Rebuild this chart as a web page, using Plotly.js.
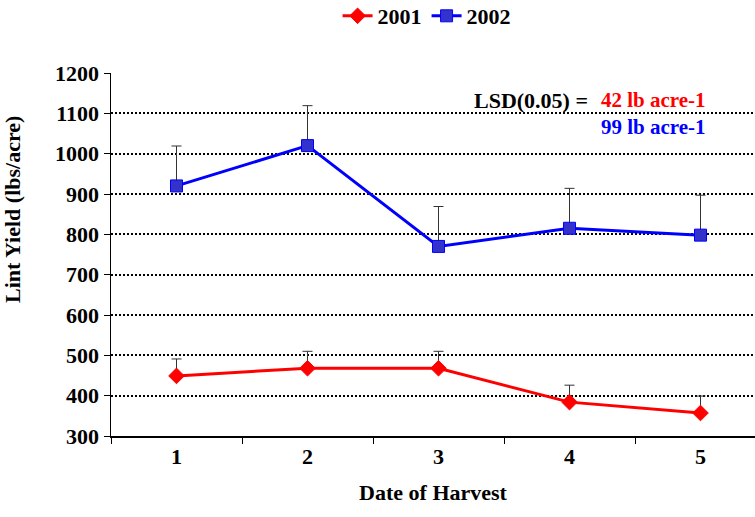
<!DOCTYPE html>
<html>
<head>
<meta charset="utf-8">
<script src="https://cdn.plot.ly/plotly-3.0.1.min.js"></script>
<style>html,body{margin:0;padding:0;background:#fff;} #chart{width:755px;height:517px;}</style>
</head>
<body>
<div id="chart"></div>
<script>
const harvestDates = ['1', '2', '3', '4', '5'];
const yield2001 = [449, 468, 468, 384, 357];
const yield2002 = [920, 1020, 770, 815, 798];
const lsd2001 = [42, 42, 42, 42, 42];
const lsd2002 = [99, 99, 99, 99, 99];
const yTicks = [300, 400, 500, 600, 700, 800, 900, 1000, 1100, 1200];

const FONT = 'Liberation Serif, Times New Roman, serif';

const traces = [
  {
    x: harvestDates, y: yield2001, name: '<b>2001</b>', type: 'scatter', mode: 'lines+markers',
    line: {color: '#ff0000', width: 3},
    marker: {symbol: 'diamond', size: 12, color: '#ff0000', line: {color: '#ff0000', width: 1}},
    error_y: {type: 'data', array: lsd2001, symmetric: false, arrayminus: [0,0,0,0,0], color: '#333333', thickness: 1, width: 5}
  },
  {
    x: harvestDates, y: yield2002, name: '<b>2002</b>', type: 'scatter', mode: 'lines+markers',
    line: {color: '#0000ff', width: 3},
    marker: {symbol: 'square', size: 12, color: '#3333cc', line: {color: '#0000ff', width: 1}},
    error_y: {type: 'data', array: lsd2002, symmetric: false, arrayminus: [0,0,0,0,0], color: '#333333', thickness: 1, width: 5}
  }
];

const layout = {
  width: 755, height: 517,
  margin: {l: 111, r: 0, t: 73, b: 81},
  paper_bgcolor: '#ffffff', plot_bgcolor: '#ffffff',
  font: {family: FONT, size: 22, color: '#000000'},
  showlegend: true,
  legend: {orientation: 'h', x: 0.565, xref: 'container', xanchor: 'center', y: 0.969, yanchor: 'middle', yref: 'container',
           font: {family: FONT, size: 22, color: '#000'}, itemwidth: 30, tracegroupgap: 0, bgcolor: 'rgba(0,0,0,0)'},
  xaxis: {
    type: 'category', range: [-0.5, 4.416], tickson: 'boundaries', ticks: 'outside', ticklen: 6,
    tickcolor: '#000', showline: true, linecolor: '#000', linewidth: 1.5, showgrid: false, zeroline: false,
    tickvals: harvestDates, ticktext: harvestDates.map(d => '<b>' + d + '</b>'),
    tickfont: {family: FONT, size: 22, color: '#000'},
    title: {text: '<b>Date of Harvest</b>', font: {family: FONT, size: 22, color: '#000'}, standoff: 16}
  },
  yaxis: {
    range: [300, 1200], tickvals: yTicks, ticktext: yTicks.map(v => '<b>' + v + '</b>'),
    ticks: 'outside', ticklen: 6, tickcolor: '#000', showline: true, linecolor: '#000', linewidth: 1.5,
    showgrid: true, gridcolor: '#000', gridwidth: 2, griddash: '2px,2px', zeroline: false,
    tickfont: {family: FONT, size: 22, color: '#000'}
  },
  annotations: [
    {xref: 'paper', yref: 'paper', x: 0, y: 1, xanchor: 'center', yanchor: 'middle', xshift: -99, yshift: -137,
     textangle: -90, showarrow: false, text: '<b>Lint Yield (lbs/acre)</b>', font: {family: FONT, size: 22, color: '#000'}},
    {xref: 'paper', yref: 'paper', x: 0, y: 1, xanchor: 'right', yanchor: 'middle', xshift: 479, yshift: -27,
     showarrow: false, text: '<b>LSD(0.05) =</b>', font: {family: FONT, size: 22, color: '#000'}},
    {xref: 'paper', yref: 'paper', x: 0, y: 1, xanchor: 'left', yanchor: 'middle', xshift: 488, yshift: -27,
     showarrow: false, text: '<b>42 lb acre-1</b>', font: {family: FONT, size: 21, color: '#ff0000'}},
    {xref: 'paper', yref: 'paper', x: 0, y: 1, xanchor: 'left', yanchor: 'middle', xshift: 488, yshift: -54,
     showarrow: false, text: '<b>99 lb acre-1</b>', font: {family: FONT, size: 21, color: '#0000ff'}}
  ]
};

Plotly.newPlot('chart', traces, layout, {displayModeBar: false, staticPlot: true});
</script>
</body>
</html>
